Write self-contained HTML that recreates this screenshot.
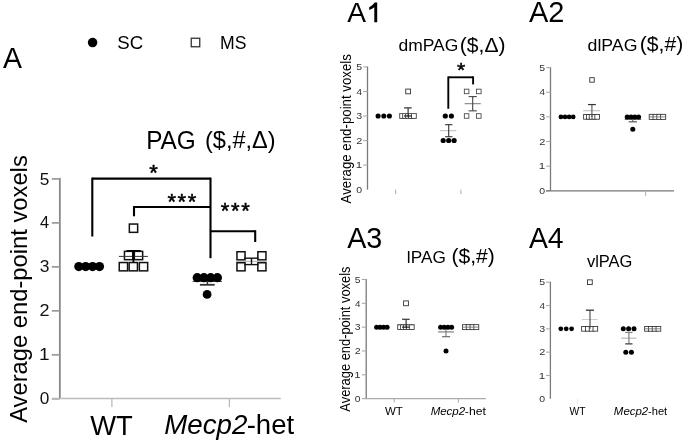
<!DOCTYPE html>
<html><head><meta charset="utf-8"><style>
html,body{margin:0;padding:0;background:#fff;}
svg{display:block;font-family:"Liberation Sans", sans-serif;filter:grayscale(100%);}
</style></head><body>
<svg width="685" height="443" viewBox="0 0 685 443">
<rect width="685" height="443" fill="#fff"/>
<text x="3.11" y="67.50" font-size="30.2" fill="#000" textLength="19.00" lengthAdjust="spacingAndGlyphs">A</text>
<circle cx="92.60" cy="42.60" r="4.75" fill="#000"/>
<text x="117.36" y="48.80" font-size="18.8" fill="#000" textLength="25.86" lengthAdjust="spacingAndGlyphs">SC</text>
<rect x="191.25" y="38.25" width="8.50" height="8.50" fill="#fff" stroke="#333" stroke-width="1.3"/>
<text x="220.09" y="48.60" font-size="18.3" fill="#000" textLength="26.40" lengthAdjust="spacingAndGlyphs">MS</text>
<text x="146.15" y="149.40" font-size="25" fill="#000" textLength="49.62" lengthAdjust="spacingAndGlyphs">PAG</text>
<text x="204.99" y="148.00" font-size="23.2" fill="#000" textLength="70.67" lengthAdjust="spacingAndGlyphs">($,#,Δ)</text>
<text transform="translate(27.40,422.82) rotate(-90)" font-size="24" fill="#000" textLength="267.60" lengthAdjust="spacingAndGlyphs">Average end-point voxels</text>
<line x1="59.85" y1="177.90" x2="59.85" y2="398.50" stroke="#888" stroke-width="1.8"/>
<line x1="51.80" y1="398.80" x2="59.85" y2="398.80" stroke="#999" stroke-width="1.7"/>
<text x="39.81" y="404.40" font-size="16.8" fill="#111" textLength="9.60" lengthAdjust="spacingAndGlyphs">0</text>
<line x1="51.80" y1="354.82" x2="59.85" y2="354.82" stroke="#999" stroke-width="1.7"/>
<text x="39.07" y="360.42" font-size="16.8" fill="#111" textLength="10.61" lengthAdjust="spacingAndGlyphs">1</text>
<line x1="51.80" y1="310.84" x2="59.85" y2="310.84" stroke="#999" stroke-width="1.7"/>
<text x="39.60" y="316.44" font-size="16.8" fill="#111" textLength="10.02" lengthAdjust="spacingAndGlyphs">2</text>
<line x1="51.80" y1="266.86" x2="59.85" y2="266.86" stroke="#999" stroke-width="1.7"/>
<text x="39.80" y="272.46" font-size="16.8" fill="#111" textLength="9.70" lengthAdjust="spacingAndGlyphs">3</text>
<line x1="51.80" y1="222.88" x2="59.85" y2="222.88" stroke="#999" stroke-width="1.7"/>
<text x="40.09" y="228.48" font-size="16.8" fill="#111" textLength="9.12" lengthAdjust="spacingAndGlyphs">4</text>
<line x1="51.80" y1="178.90" x2="59.85" y2="178.90" stroke="#999" stroke-width="1.7"/>
<text x="39.81" y="184.50" font-size="16.8" fill="#111" textLength="9.60" lengthAdjust="spacingAndGlyphs">5</text>
<line x1="52.00" y1="398.50" x2="280.80" y2="398.50" stroke="#bbb" stroke-width="1.6"/>
<line x1="111.90" y1="398.50" x2="111.90" y2="407.00" stroke="#bbb" stroke-width="1.3"/>
<line x1="229.40" y1="398.50" x2="229.40" y2="407.00" stroke="#bbb" stroke-width="1.3"/>
<text x="90.16" y="434.60" font-size="28" fill="#000" textLength="42.58" lengthAdjust="spacingAndGlyphs">WT</text>
<text x="164.27" y="434.00" font-size="27.5" font-style="italic" fill="#000" textLength="83.09" lengthAdjust="spacingAndGlyphs">Mecp2</text>
<text x="246.66" y="434.00" font-size="27.5" fill="#000" textLength="47.47" lengthAdjust="spacingAndGlyphs">-het</text>
<line x1="92.30" y1="178.60" x2="210.50" y2="178.60" stroke="#000" stroke-width="2.1"/>
<line x1="92.30" y1="177.60" x2="92.30" y2="236.50" stroke="#000" stroke-width="2.1"/>
<line x1="210.50" y1="177.60" x2="210.50" y2="258.20" stroke="#000" stroke-width="2.1"/>
<line x1="134.00" y1="207.00" x2="210.50" y2="207.00" stroke="#000" stroke-width="2.1"/>
<line x1="134.00" y1="206.00" x2="134.00" y2="216.30" stroke="#000" stroke-width="2.1"/>
<line x1="210.50" y1="231.20" x2="255.20" y2="231.20" stroke="#000" stroke-width="2.1"/>
<line x1="255.20" y1="230.20" x2="255.20" y2="242.00" stroke="#000" stroke-width="2.1"/>
<text x="153.60" y="180.44" font-size="22" text-anchor="middle" stroke="#000" stroke-width="0.5">*</text>
<text x="171.80" y="208.94" font-size="22" text-anchor="middle" stroke="#000" stroke-width="0.5">*</text>
<text x="181.90" y="208.94" font-size="22" text-anchor="middle" stroke="#000" stroke-width="0.5">*</text>
<text x="192.10" y="208.94" font-size="22" text-anchor="middle" stroke="#000" stroke-width="0.5">*</text>
<text x="225.10" y="218.04" font-size="22" text-anchor="middle" stroke="#000" stroke-width="0.5">*</text>
<text x="235.20" y="218.04" font-size="22" text-anchor="middle" stroke="#000" stroke-width="0.5">*</text>
<text x="245.50" y="218.04" font-size="22" text-anchor="middle" stroke="#000" stroke-width="0.5">*</text>
<circle cx="78.80" cy="266.60" r="4.6" fill="#000"/>
<circle cx="85.70" cy="266.60" r="4.6" fill="#000"/>
<circle cx="92.60" cy="266.60" r="4.6" fill="#000"/>
<circle cx="99.50" cy="266.60" r="4.6" fill="#000"/>
<rect x="119.25" y="262.55" width="8.30" height="8.30" fill="#fff" stroke="#111" stroke-width="1.5"/>
<rect x="129.15" y="262.55" width="8.30" height="8.30" fill="#fff" stroke="#111" stroke-width="1.5"/>
<rect x="139.35" y="262.55" width="8.30" height="8.30" fill="#fff" stroke="#111" stroke-width="1.5"/>
<rect x="124.45" y="251.35" width="8.30" height="8.30" fill="#fff" stroke="#111" stroke-width="1.5"/>
<rect x="134.35" y="251.35" width="8.30" height="8.30" fill="#fff" stroke="#111" stroke-width="1.5"/>
<line x1="118.90" y1="256.40" x2="147.90" y2="256.40" stroke="#333" stroke-width="1.0"/>
<line x1="133.40" y1="250.80" x2="133.40" y2="262.00" stroke="#000" stroke-width="1.8"/>
<line x1="126.60" y1="250.80" x2="140.70" y2="250.80" stroke="#000" stroke-width="1.6"/>
<rect x="129.35" y="224.05" width="8.30" height="8.30" fill="#fff" stroke="#111" stroke-width="1.5"/>
<line x1="192.70" y1="281.40" x2="221.90" y2="281.40" stroke="#333" stroke-width="1.0"/>
<line x1="207.40" y1="277.60" x2="207.40" y2="284.80" stroke="#333" stroke-width="1.5"/>
<line x1="199.90" y1="284.80" x2="214.70" y2="284.80" stroke="#333" stroke-width="1.8"/>
<circle cx="197.20" cy="277.65" r="4.6" fill="#000"/>
<circle cx="203.90" cy="277.65" r="4.6" fill="#000"/>
<circle cx="210.70" cy="277.65" r="4.6" fill="#000"/>
<circle cx="217.40" cy="277.65" r="4.6" fill="#000"/>
<circle cx="207.10" cy="294.40" r="4.4" fill="#000"/>
<rect x="236.95" y="251.75" width="8.10" height="8.10" fill="#fff" stroke="#111" stroke-width="1.5"/>
<rect x="236.95" y="262.75" width="8.10" height="8.10" fill="#fff" stroke="#111" stroke-width="1.5"/>
<rect x="257.85" y="251.75" width="8.10" height="8.10" fill="#fff" stroke="#111" stroke-width="1.5"/>
<rect x="257.85" y="262.75" width="8.10" height="8.10" fill="#fff" stroke="#111" stroke-width="1.5"/>
<line x1="236.00" y1="261.30" x2="266.60" y2="261.30" stroke="#aaa" stroke-width="1.0"/>
<line x1="244.20" y1="258.20" x2="258.50" y2="258.20" stroke="#111" stroke-width="1.4"/>
<line x1="244.20" y1="264.60" x2="258.50" y2="264.60" stroke="#111" stroke-width="1.4"/>
<line x1="251.50" y1="258.20" x2="251.50" y2="264.60" stroke="#111" stroke-width="1.4"/>
<text x="347.16" y="22.30" font-size="28.5" fill="#000" textLength="18.80" lengthAdjust="spacingAndGlyphs">A</text>
<path d="M377.2 2.6 L377.2 22.3 L374.3 22.3 L374.3 7.2 Q372.4 8.9 369.2 10.0 L369.2 7.3 Q372.7 5.6 374.7 2.6 Z" fill="#000"/>
<text x="398.50" y="50.60" font-size="16.8" fill="#000" textLength="59.85" lengthAdjust="spacingAndGlyphs">dmPAG</text>
<text x="459.84" y="51.50" font-size="19.6" fill="#000" textLength="45.69" lengthAdjust="spacingAndGlyphs">($,Δ)</text>
<text transform="translate(350.90,203.47) rotate(-90)" font-size="15" fill="#000" textLength="149.36" lengthAdjust="spacingAndGlyphs">Average end-point voxels</text>
<line x1="367.50" y1="66.40" x2="367.50" y2="189.60" stroke="#7a7a7a" stroke-width="1.3"/>
<text x="356.28" y="192.80" font-size="9.6" fill="#333" textLength="5.85" lengthAdjust="spacingAndGlyphs">0</text>
<line x1="363.20" y1="165.06" x2="367.50" y2="165.06" stroke="#aaa" stroke-width="1.1"/>
<text x="355.83" y="168.26" font-size="9.6" fill="#333" textLength="6.47" lengthAdjust="spacingAndGlyphs">1</text>
<line x1="363.20" y1="140.52" x2="367.50" y2="140.52" stroke="#aaa" stroke-width="1.1"/>
<text x="356.15" y="143.72" font-size="9.6" fill="#333" textLength="6.11" lengthAdjust="spacingAndGlyphs">2</text>
<line x1="363.20" y1="115.98" x2="367.50" y2="115.98" stroke="#aaa" stroke-width="1.1"/>
<text x="356.27" y="119.18" font-size="9.6" fill="#333" textLength="5.92" lengthAdjust="spacingAndGlyphs">3</text>
<line x1="363.20" y1="91.44" x2="367.50" y2="91.44" stroke="#aaa" stroke-width="1.1"/>
<text x="356.45" y="94.64" font-size="9.6" fill="#333" textLength="5.56" lengthAdjust="spacingAndGlyphs">4</text>
<line x1="363.20" y1="66.90" x2="367.50" y2="66.90" stroke="#aaa" stroke-width="1.1"/>
<text x="356.28" y="70.10" font-size="9.6" fill="#333" textLength="5.85" lengthAdjust="spacingAndGlyphs">5</text>
<line x1="395.70" y1="189.60" x2="395.70" y2="194.10" stroke="#aaa" stroke-width="1.0"/>
<line x1="460.90" y1="189.60" x2="460.90" y2="194.10" stroke="#aaa" stroke-width="1.0"/>
<circle cx="378.10" cy="115.98" r="2.55" fill="#000"/>
<circle cx="383.80" cy="115.98" r="2.55" fill="#000"/>
<circle cx="389.40" cy="115.98" r="2.55" fill="#000"/>
<rect x="399.73" y="113.60" width="4.75" height="4.75" fill="#fff" stroke="#333" stroke-width="0.85"/>
<rect x="402.68" y="113.60" width="4.75" height="4.75" fill="#fff" stroke="#333" stroke-width="0.85"/>
<rect x="405.62" y="113.60" width="4.75" height="4.75" fill="#fff" stroke="#333" stroke-width="0.85"/>
<rect x="408.58" y="113.60" width="4.75" height="4.75" fill="#fff" stroke="#333" stroke-width="0.85"/>
<rect x="411.53" y="113.60" width="4.75" height="4.75" fill="#fff" stroke="#333" stroke-width="0.85"/>
<line x1="399.50" y1="113.53" x2="416.50" y2="113.53" stroke="#666" stroke-width="0.8"/>
<line x1="408.10" y1="107.88" x2="408.10" y2="117.21" stroke="#333" stroke-width="1.2"/>
<line x1="404.00" y1="115.98" x2="411.70" y2="115.98" stroke="#222" stroke-width="1.2"/>
<line x1="404.00" y1="107.88" x2="411.70" y2="107.88" stroke="#333" stroke-width="1.2"/>
<rect x="405.75" y="89.09" width="4.70" height="4.70" fill="#fff" stroke="#333" stroke-width="0.9"/>
<line x1="440.20" y1="130.70" x2="456.40" y2="130.70" stroke="#bbb" stroke-width="1.0"/>
<line x1="448.70" y1="124.69" x2="448.70" y2="136.72" stroke="#333" stroke-width="1.1"/>
<line x1="445.10" y1="124.69" x2="452.40" y2="124.69" stroke="#333" stroke-width="1.1"/>
<line x1="445.10" y1="136.72" x2="452.40" y2="136.72" stroke="#333" stroke-width="1.1"/>
<circle cx="445.30" cy="115.98" r="2.6" fill="#000"/>
<circle cx="451.40" cy="115.98" r="2.6" fill="#000"/>
<circle cx="443.20" cy="140.52" r="2.6" fill="#000"/>
<circle cx="448.70" cy="140.52" r="2.6" fill="#000"/>
<circle cx="454.10" cy="140.52" r="2.6" fill="#000"/>
<rect x="464.33" y="89.16" width="4.55" height="4.55" fill="#fff" stroke="#444" stroke-width="0.85"/>
<rect x="464.33" y="113.70" width="4.55" height="4.55" fill="#fff" stroke="#444" stroke-width="0.85"/>
<rect x="476.53" y="89.16" width="4.55" height="4.55" fill="#fff" stroke="#444" stroke-width="0.85"/>
<rect x="476.53" y="113.70" width="4.55" height="4.55" fill="#fff" stroke="#444" stroke-width="0.85"/>
<line x1="464.60" y1="103.71" x2="480.80" y2="103.71" stroke="#777" stroke-width="1.0"/>
<line x1="472.70" y1="96.59" x2="472.70" y2="110.83" stroke="#444" stroke-width="1.1"/>
<line x1="468.60" y1="96.59" x2="476.80" y2="96.59" stroke="#444" stroke-width="1.1"/>
<line x1="468.60" y1="110.83" x2="476.80" y2="110.83" stroke="#444" stroke-width="1.1"/>
<line x1="448.30" y1="77.30" x2="473.10" y2="77.30" stroke="#000" stroke-width="1.9"/>
<line x1="448.30" y1="76.40" x2="448.30" y2="108.80" stroke="#000" stroke-width="1.9"/>
<line x1="473.10" y1="76.40" x2="473.10" y2="84.40" stroke="#000" stroke-width="1.9"/>
<text x="461.20" y="77.02" font-size="21" text-anchor="middle" stroke="#000" stroke-width="0.5">*</text>
<text x="528.95" y="22.30" font-size="29" fill="#000" textLength="35.49" lengthAdjust="spacingAndGlyphs">A2</text>
<text x="587.59" y="50.50" font-size="16.4" fill="#000" textLength="49.87" lengthAdjust="spacingAndGlyphs">dlPAG</text>
<text x="639.73" y="51.40" font-size="19.4" fill="#000" textLength="43.46" lengthAdjust="spacingAndGlyphs">($,#)</text>
<line x1="550.50" y1="67.10" x2="550.50" y2="190.80" stroke="#7a7a7a" stroke-width="1.3"/>
<line x1="546.20" y1="190.80" x2="550.50" y2="190.80" stroke="#aaa" stroke-width="1.1"/>
<text x="539.28" y="194.00" font-size="9.6" fill="#333" textLength="5.85" lengthAdjust="spacingAndGlyphs">0</text>
<line x1="546.20" y1="166.16" x2="550.50" y2="166.16" stroke="#aaa" stroke-width="1.1"/>
<text x="538.83" y="169.36" font-size="9.6" fill="#333" textLength="6.47" lengthAdjust="spacingAndGlyphs">1</text>
<line x1="546.20" y1="141.52" x2="550.50" y2="141.52" stroke="#aaa" stroke-width="1.1"/>
<text x="539.15" y="144.72" font-size="9.6" fill="#333" textLength="6.11" lengthAdjust="spacingAndGlyphs">2</text>
<line x1="546.20" y1="116.88" x2="550.50" y2="116.88" stroke="#aaa" stroke-width="1.1"/>
<text x="539.27" y="120.08" font-size="9.6" fill="#333" textLength="5.92" lengthAdjust="spacingAndGlyphs">3</text>
<line x1="546.20" y1="92.24" x2="550.50" y2="92.24" stroke="#aaa" stroke-width="1.1"/>
<text x="539.45" y="95.44" font-size="9.6" fill="#333" textLength="5.56" lengthAdjust="spacingAndGlyphs">4</text>
<line x1="546.20" y1="67.60" x2="550.50" y2="67.60" stroke="#aaa" stroke-width="1.1"/>
<text x="539.28" y="70.80" font-size="9.6" fill="#333" textLength="5.85" lengthAdjust="spacingAndGlyphs">5</text>
<line x1="546.00" y1="190.80" x2="674.00" y2="190.80" stroke="#777" stroke-width="1.2"/>
<line x1="645.60" y1="190.80" x2="645.60" y2="195.80" stroke="#aaa" stroke-width="1.0"/>
<circle cx="560.90" cy="116.88" r="2.35" fill="#000"/>
<circle cx="565.00" cy="116.88" r="2.35" fill="#000"/>
<circle cx="569.10" cy="116.88" r="2.35" fill="#000"/>
<circle cx="573.20" cy="116.88" r="2.35" fill="#000"/>
<rect x="583.62" y="114.55" width="4.65" height="4.65" fill="#fff" stroke="#333" stroke-width="0.85"/>
<rect x="586.42" y="114.55" width="4.65" height="4.65" fill="#fff" stroke="#333" stroke-width="0.85"/>
<rect x="589.23" y="114.55" width="4.65" height="4.65" fill="#fff" stroke="#333" stroke-width="0.85"/>
<rect x="592.02" y="114.55" width="4.65" height="4.65" fill="#fff" stroke="#333" stroke-width="0.85"/>
<rect x="594.83" y="114.55" width="4.65" height="4.65" fill="#fff" stroke="#333" stroke-width="0.85"/>
<line x1="583.20" y1="110.72" x2="600.00" y2="110.72" stroke="#bbb" stroke-width="1.0"/>
<line x1="591.90" y1="104.56" x2="591.90" y2="116.88" stroke="#555" stroke-width="1.1"/>
<line x1="588.00" y1="104.56" x2="595.90" y2="104.56" stroke="#333" stroke-width="1.2"/>
<rect x="589.75" y="77.67" width="4.50" height="4.50" fill="#fff" stroke="#333" stroke-width="0.9"/>
<line x1="624.70" y1="119.34" x2="641.20" y2="119.34" stroke="#555" stroke-width="1.0"/>
<line x1="632.80" y1="116.88" x2="632.80" y2="121.81" stroke="#555" stroke-width="1.0"/>
<line x1="628.70" y1="121.81" x2="637.00" y2="121.81" stroke="#555" stroke-width="1.2"/>
<circle cx="627.20" cy="116.88" r="2.5" fill="#000"/>
<circle cx="631.00" cy="116.88" r="2.5" fill="#000"/>
<circle cx="634.80" cy="116.88" r="2.5" fill="#000"/>
<circle cx="638.60" cy="116.88" r="2.5" fill="#000"/>
<circle cx="632.80" cy="129.20" r="2.5" fill="#000"/>
<rect x="649.22" y="114.35" width="5.05" height="5.05" fill="#fff" stroke="#333" stroke-width="0.85"/>
<rect x="653.02" y="114.35" width="5.05" height="5.05" fill="#fff" stroke="#333" stroke-width="0.85"/>
<rect x="656.82" y="114.35" width="5.05" height="5.05" fill="#fff" stroke="#333" stroke-width="0.85"/>
<rect x="660.62" y="114.35" width="5.05" height="5.05" fill="#fff" stroke="#333" stroke-width="0.85"/>
<line x1="648.80" y1="116.88" x2="666.20" y2="116.88" stroke="#666" stroke-width="0.8"/>
<text x="347.16" y="248.30" font-size="29" fill="#000" textLength="35.13" lengthAdjust="spacingAndGlyphs">A3</text>
<text x="406.88" y="263.10" font-size="16.2" fill="#000" textLength="38.91" lengthAdjust="spacingAndGlyphs">lPAG</text>
<text x="451.53" y="263.35" font-size="19.8" fill="#000" textLength="43.36" lengthAdjust="spacingAndGlyphs">($,#)</text>
<text transform="translate(350.20,411.66) rotate(-90)" font-size="15" fill="#000" textLength="145.14" lengthAdjust="spacingAndGlyphs">Average end-point voxels</text>
<line x1="366.20" y1="279.00" x2="366.20" y2="398.60" stroke="#7a7a7a" stroke-width="1.3"/>
<line x1="361.90" y1="398.60" x2="366.20" y2="398.60" stroke="#aaa" stroke-width="1.1"/>
<text x="354.79" y="401.80" font-size="9.6" fill="#333" textLength="5.74" lengthAdjust="spacingAndGlyphs">0</text>
<line x1="361.90" y1="374.78" x2="366.20" y2="374.78" stroke="#aaa" stroke-width="1.1"/>
<text x="354.35" y="377.98" font-size="9.6" fill="#333" textLength="6.34" lengthAdjust="spacingAndGlyphs">1</text>
<line x1="361.90" y1="350.96" x2="366.20" y2="350.96" stroke="#aaa" stroke-width="1.1"/>
<text x="354.66" y="354.16" font-size="9.6" fill="#333" textLength="5.99" lengthAdjust="spacingAndGlyphs">2</text>
<line x1="361.90" y1="327.14" x2="366.20" y2="327.14" stroke="#aaa" stroke-width="1.1"/>
<text x="354.78" y="330.34" font-size="9.6" fill="#333" textLength="5.80" lengthAdjust="spacingAndGlyphs">3</text>
<line x1="361.90" y1="303.32" x2="366.20" y2="303.32" stroke="#aaa" stroke-width="1.1"/>
<text x="354.95" y="306.52" font-size="9.6" fill="#333" textLength="5.45" lengthAdjust="spacingAndGlyphs">4</text>
<line x1="361.90" y1="279.50" x2="366.20" y2="279.50" stroke="#aaa" stroke-width="1.1"/>
<text x="354.79" y="282.70" font-size="9.6" fill="#333" textLength="5.74" lengthAdjust="spacingAndGlyphs">5</text>
<line x1="364.90" y1="398.60" x2="485.80" y2="398.60" stroke="#aaa" stroke-width="1.2"/>
<line x1="394.20" y1="398.60" x2="394.20" y2="402.50" stroke="#aaa" stroke-width="1.0"/>
<line x1="458.40" y1="398.60" x2="458.40" y2="402.50" stroke="#aaa" stroke-width="1.0"/>
<circle cx="376.60" cy="327.14" r="2.5" fill="#000"/>
<circle cx="380.10" cy="327.14" r="2.5" fill="#000"/>
<circle cx="383.60" cy="327.14" r="2.5" fill="#000"/>
<circle cx="387.10" cy="327.14" r="2.5" fill="#000"/>
<rect x="397.72" y="324.71" width="4.85" height="4.85" fill="#fff" stroke="#333" stroke-width="0.85"/>
<rect x="400.62" y="324.71" width="4.85" height="4.85" fill="#fff" stroke="#333" stroke-width="0.85"/>
<rect x="403.52" y="324.71" width="4.85" height="4.85" fill="#fff" stroke="#333" stroke-width="0.85"/>
<rect x="406.42" y="324.71" width="4.85" height="4.85" fill="#fff" stroke="#333" stroke-width="0.85"/>
<rect x="409.32" y="324.71" width="4.85" height="4.85" fill="#fff" stroke="#333" stroke-width="0.85"/>
<line x1="397.50" y1="324.76" x2="414.50" y2="324.76" stroke="#666" stroke-width="0.8"/>
<line x1="406.10" y1="319.28" x2="406.10" y2="328.33" stroke="#333" stroke-width="1.2"/>
<line x1="402.00" y1="327.14" x2="409.70" y2="327.14" stroke="#222" stroke-width="1.2"/>
<line x1="402.00" y1="319.28" x2="409.70" y2="319.28" stroke="#333" stroke-width="1.2"/>
<rect x="403.60" y="300.92" width="4.80" height="4.80" fill="#fff" stroke="#333" stroke-width="0.9"/>
<line x1="438.10" y1="331.90" x2="453.90" y2="331.90" stroke="#999" stroke-width="1.5"/>
<line x1="446.00" y1="327.14" x2="446.00" y2="336.67" stroke="#777" stroke-width="1.1"/>
<line x1="442.10" y1="336.67" x2="450.10" y2="336.67" stroke="#777" stroke-width="1.3"/>
<circle cx="440.60" cy="327.14" r="2.5" fill="#000"/>
<circle cx="444.27" cy="327.14" r="2.5" fill="#000"/>
<circle cx="447.94" cy="327.14" r="2.5" fill="#000"/>
<circle cx="451.61" cy="327.14" r="2.5" fill="#000"/>
<circle cx="446.00" cy="350.96" r="2.5" fill="#000"/>
<rect x="462.43" y="324.67" width="4.95" height="4.95" fill="#fff" stroke="#333" stroke-width="0.85"/>
<rect x="466.23" y="324.67" width="4.95" height="4.95" fill="#fff" stroke="#333" stroke-width="0.85"/>
<rect x="470.03" y="324.67" width="4.95" height="4.95" fill="#fff" stroke="#333" stroke-width="0.85"/>
<rect x="473.82" y="324.67" width="4.95" height="4.95" fill="#fff" stroke="#333" stroke-width="0.85"/>
<line x1="462.00" y1="327.14" x2="478.90" y2="327.14" stroke="#666" stroke-width="0.8"/>
<text x="384.94" y="415.00" font-size="11.8" fill="#000" textLength="17.88" lengthAdjust="spacingAndGlyphs">WT</text>
<text x="430.65" y="415.00" font-size="11.8" font-style="italic" fill="#000" textLength="34.54" lengthAdjust="spacingAndGlyphs">Mecp2</text>
<text x="464.85" y="415.00" font-size="11.8" fill="#000" textLength="21.05" lengthAdjust="spacingAndGlyphs">-het</text>
<text x="528.96" y="248.30" font-size="29" fill="#000" textLength="34.68" lengthAdjust="spacingAndGlyphs">A4</text>
<text x="586.92" y="266.50" font-size="15.8" fill="#000" textLength="45.52" lengthAdjust="spacingAndGlyphs">vlPAG</text>
<line x1="550.40" y1="281.70" x2="550.40" y2="398.80" stroke="#7a7a7a" stroke-width="1.3"/>
<text x="539.28" y="402.00" font-size="9.6" fill="#333" textLength="5.85" lengthAdjust="spacingAndGlyphs">0</text>
<line x1="546.10" y1="375.48" x2="550.40" y2="375.48" stroke="#aaa" stroke-width="1.1"/>
<text x="538.83" y="378.68" font-size="9.6" fill="#333" textLength="6.47" lengthAdjust="spacingAndGlyphs">1</text>
<line x1="546.10" y1="352.16" x2="550.40" y2="352.16" stroke="#aaa" stroke-width="1.1"/>
<text x="539.15" y="355.36" font-size="9.6" fill="#333" textLength="6.11" lengthAdjust="spacingAndGlyphs">2</text>
<line x1="546.10" y1="328.84" x2="550.40" y2="328.84" stroke="#aaa" stroke-width="1.1"/>
<text x="539.27" y="332.04" font-size="9.6" fill="#333" textLength="5.92" lengthAdjust="spacingAndGlyphs">3</text>
<line x1="546.10" y1="305.52" x2="550.40" y2="305.52" stroke="#aaa" stroke-width="1.1"/>
<text x="539.45" y="308.72" font-size="9.6" fill="#333" textLength="5.56" lengthAdjust="spacingAndGlyphs">4</text>
<line x1="546.10" y1="282.20" x2="550.40" y2="282.20" stroke="#aaa" stroke-width="1.1"/>
<text x="539.28" y="285.40" font-size="9.6" fill="#333" textLength="5.85" lengthAdjust="spacingAndGlyphs">5</text>
<line x1="577.50" y1="398.80" x2="577.50" y2="403.80" stroke="#e8e8e8" stroke-width="1.0"/>
<circle cx="560.80" cy="328.84" r="2.4" fill="#000"/>
<circle cx="566.20" cy="328.84" r="2.4" fill="#000"/>
<circle cx="571.60" cy="328.84" r="2.4" fill="#000"/>
<rect x="581.62" y="326.52" width="4.65" height="4.65" fill="#fff" stroke="#333" stroke-width="0.85"/>
<rect x="585.42" y="326.52" width="4.65" height="4.65" fill="#fff" stroke="#333" stroke-width="0.85"/>
<rect x="589.23" y="326.52" width="4.65" height="4.65" fill="#fff" stroke="#333" stroke-width="0.85"/>
<rect x="593.02" y="326.52" width="4.65" height="4.65" fill="#fff" stroke="#333" stroke-width="0.85"/>
<line x1="581.80" y1="319.51" x2="597.70" y2="319.51" stroke="#ccc" stroke-width="1.0"/>
<line x1="590.00" y1="310.18" x2="590.00" y2="328.84" stroke="#444" stroke-width="1.1"/>
<line x1="585.90" y1="310.18" x2="594.00" y2="310.18" stroke="#333" stroke-width="1.3"/>
<rect x="587.55" y="279.85" width="4.70" height="4.70" fill="#fff" stroke="#333" stroke-width="0.9"/>
<line x1="621.10" y1="338.17" x2="636.50" y2="338.17" stroke="#aaa" stroke-width="1.0"/>
<line x1="628.90" y1="332.45" x2="628.90" y2="343.88" stroke="#888" stroke-width="1.3"/>
<line x1="625.20" y1="332.45" x2="632.50" y2="332.45" stroke="#888" stroke-width="1.3"/>
<line x1="625.20" y1="343.88" x2="632.50" y2="343.88" stroke="#444" stroke-width="1.3"/>
<circle cx="623.30" cy="328.84" r="2.5" fill="#000"/>
<circle cx="628.60" cy="328.84" r="2.5" fill="#000"/>
<circle cx="634.00" cy="328.84" r="2.5" fill="#000"/>
<circle cx="625.80" cy="352.16" r="2.5" fill="#000"/>
<circle cx="631.40" cy="352.16" r="2.5" fill="#000"/>
<rect x="644.62" y="326.47" width="4.75" height="4.75" fill="#fff" stroke="#333" stroke-width="0.85"/>
<rect x="648.42" y="326.47" width="4.75" height="4.75" fill="#fff" stroke="#333" stroke-width="0.85"/>
<rect x="652.23" y="326.47" width="4.75" height="4.75" fill="#fff" stroke="#333" stroke-width="0.85"/>
<rect x="656.02" y="326.47" width="4.75" height="4.75" fill="#fff" stroke="#333" stroke-width="0.85"/>
<line x1="644.20" y1="328.84" x2="660.70" y2="328.84" stroke="#666" stroke-width="0.8"/>
<text x="569.55" y="415.10" font-size="11.5" fill="#000" textLength="16.05" lengthAdjust="spacingAndGlyphs">WT</text>
<text x="613.86" y="415.10" font-size="11.5" font-style="italic" fill="#000" textLength="34.33" lengthAdjust="spacingAndGlyphs">Mecp2</text>
<text x="648.00" y="415.10" font-size="11.5" fill="#000" textLength="19.19" lengthAdjust="spacingAndGlyphs">-het</text>
</svg></body></html>
